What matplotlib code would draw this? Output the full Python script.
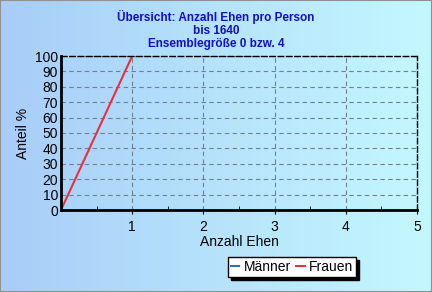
import matplotlib.pyplot as plt
import numpy as np
from matplotlib.patches import Rectangle

plt.rcParams['font.family'] = ['Liberation Sans', 'DejaVu Sans']

# Daten
ehen = [0, 1]
frauen = [0, 100]
maenner_x = []
maenner_y = []
x_ticks = [1, 2, 3, 4, 5]
y_ticks = [0, 10, 20, 30, 40, 50, 60, 70, 80, 90, 100]

fig = plt.figure(figsize=(4.32, 2.92), dpi=100)

# Hintergrund mit Farbverlauf
bg = fig.add_axes([0, 0, 1, 1], zorder=-10)
c1 = np.array([0xa8, 0xcd, 0xf8]) / 255
c2 = np.array([0xc4, 0xf8, 0xff]) / 255
t = np.linspace(0, 1, 256)
grad = (c1[None, :] * (1 - t[:, None]) + c2[None, :] * t[:, None])[None, :, :]
bg.imshow(grad, aspect='auto', extent=[0, 1, 0, 1])
bg.axis('off')
fig.patches.append(Rectangle((0, 0), 1, 1, transform=fig.transFigure,
                             fill=False, edgecolor='#909090', linewidth=1.5))

ax = fig.add_axes([61 / 432, 1 - 210 / 292, 356 / 432, 154 / 292])
ax.patch.set_alpha(0)

ax.plot(maenner_x, maenner_y, color='#3070c0', linewidth=1.5, label='Männer')
ax.plot(ehen, frauen, color='#e83040', linewidth=1.5, label='Frauen')

ax.set_xlim(0, 5)
ax.set_ylim(0, 100)
ax.set_xticks(x_ticks)
ax.set_yticks(y_ticks)
ax.set_xticks([0.5, 1.5, 2.5, 3.5, 4.5], minor=True)
ax.tick_params(axis='x', which='major', direction='out', length=3, labelsize=10, pad=4)
ax.tick_params(axis='x', which='minor', direction='in', length=3)
ax.tick_params(axis='y', length=0, labelsize=10, pad=2)

ax.grid(True, linestyle=(0, (4, 3)), color='#708090', linewidth=0.8)
for s in ['left', 'bottom']:
    ax.spines[s].set_linewidth(2)
for s in ['top', 'right']:
    ax.spines[s].set_linestyle((0, (4, 2)))
    ax.spines[s].set_linewidth(1)

ax.set_xlabel('Anzahl Ehen', fontsize=10, labelpad=1)
ax.set_ylabel('Anteil %', fontsize=10, labelpad=4)

fig.text(0.5, 1 - 30 / 292, 'Übersicht: Anzahl Ehen pro Person\nbis 1640\nEnsemblegröße 0 bzw. 4',
         ha='center', va='center', fontsize=8.5, fontweight='bold', color='#1010c8',
         linespacing=1.1)

leg = ax.legend(loc='center', bbox_to_anchor=(292 / 432, 1 - 267 / 292),
                bbox_transform=fig.transFigure, ncol=2, fontsize=10,
                handlelength=0.6, handletextpad=0.3, columnspacing=0.4,
                frameon=True, fancybox=False, shadow={'color': 'black', 'alpha': 1},
                borderpad=0.2, edgecolor='black')
leg.get_frame().set_linewidth(1)
leg.get_frame().set_facecolor('white')

fig.savefig('out.png', dpi=100)
